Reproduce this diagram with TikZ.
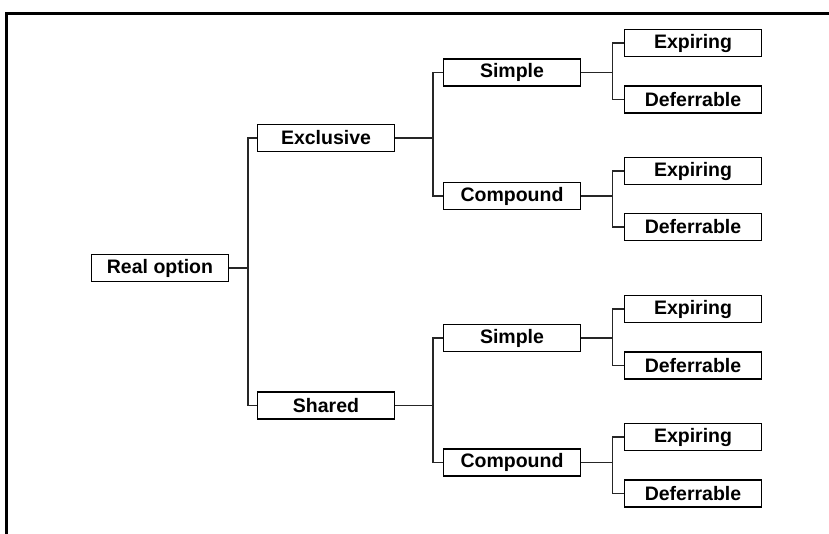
\documentclass[tikz,border=0pt]{standalone}
\usepackage{fontspec}
\setmainfont{Liberation Sans}
\begin{document}
\begin{tikzpicture}[x=1pt,y=-1pt,
  opt/.style={draw=black,line width=1.6pt,fill=white,minimum width=137pt,minimum height=27pt,inner sep=0pt,font=\fontsize{19.5}{21}\selectfont\bfseries},
  link/.style={draw=black!85,line width=1.5pt}]
\useasboundingbox (0,0) rectangle (829,533);
\draw[line width=2.2pt] (6.5,540) -- (6.5,13.5) -- (840,13.5);
% nodes
\node[opt] (ro) at (160,268) {Real option};
\node[opt] (ex) at (326,138) {Exclusive};
\node[opt] (sh) at (326,405.5) {Shared};
\node[opt] (s1) at (512,72.5) {Simple};
\node[opt] (c1) at (512,196) {Compound};
\node[opt] (s2) at (512,338) {Simple};
\node[opt] (c2) at (512,462.5) {Compound};
\node[opt] (e1) at (693,43) {Expiring};
\node[opt] (d1) at (693,99.5) {Deferrable};
\node[opt] (e2) at (693,171) {Expiring};
\node[opt] (d2) at (693,227) {Deferrable};
\node[opt] (e3) at (693,309) {Expiring};
\node[opt] (d3) at (693,365.5) {Deferrable};
\node[opt] (e4) at (693,437) {Expiring};
\node[opt] (d4) at (693,493.5) {Deferrable};
% connectors
\coordinate (b0) at (248,268);
\draw[link] (ro.east) -- (b0);
\draw[link] (ex.west) -| (b0) |- (sh.west);
\foreach \p/\a/\b/\y in {ex/s1/c1/138, sh/s2/c2/405.5}{
  \coordinate (j\p) at (433,\y);
  \draw[link] (\p.east) -- (j\p);
  \draw[link] (\a.west) -| (j\p) |- (\b.west);
}
\foreach \p/\a/\b/\y in {s1/e1/d1/72.5, c1/e2/d2/196, s2/e3/d3/338, c2/e4/d4/462.5}{
  \coordinate (k\p) at (612.5,\y);
  \draw[link] (\p.east) -- (k\p);
  \draw[link] (\a.west) -| (k\p) |- (\b.west);
}
\end{tikzpicture}
\end{document}
